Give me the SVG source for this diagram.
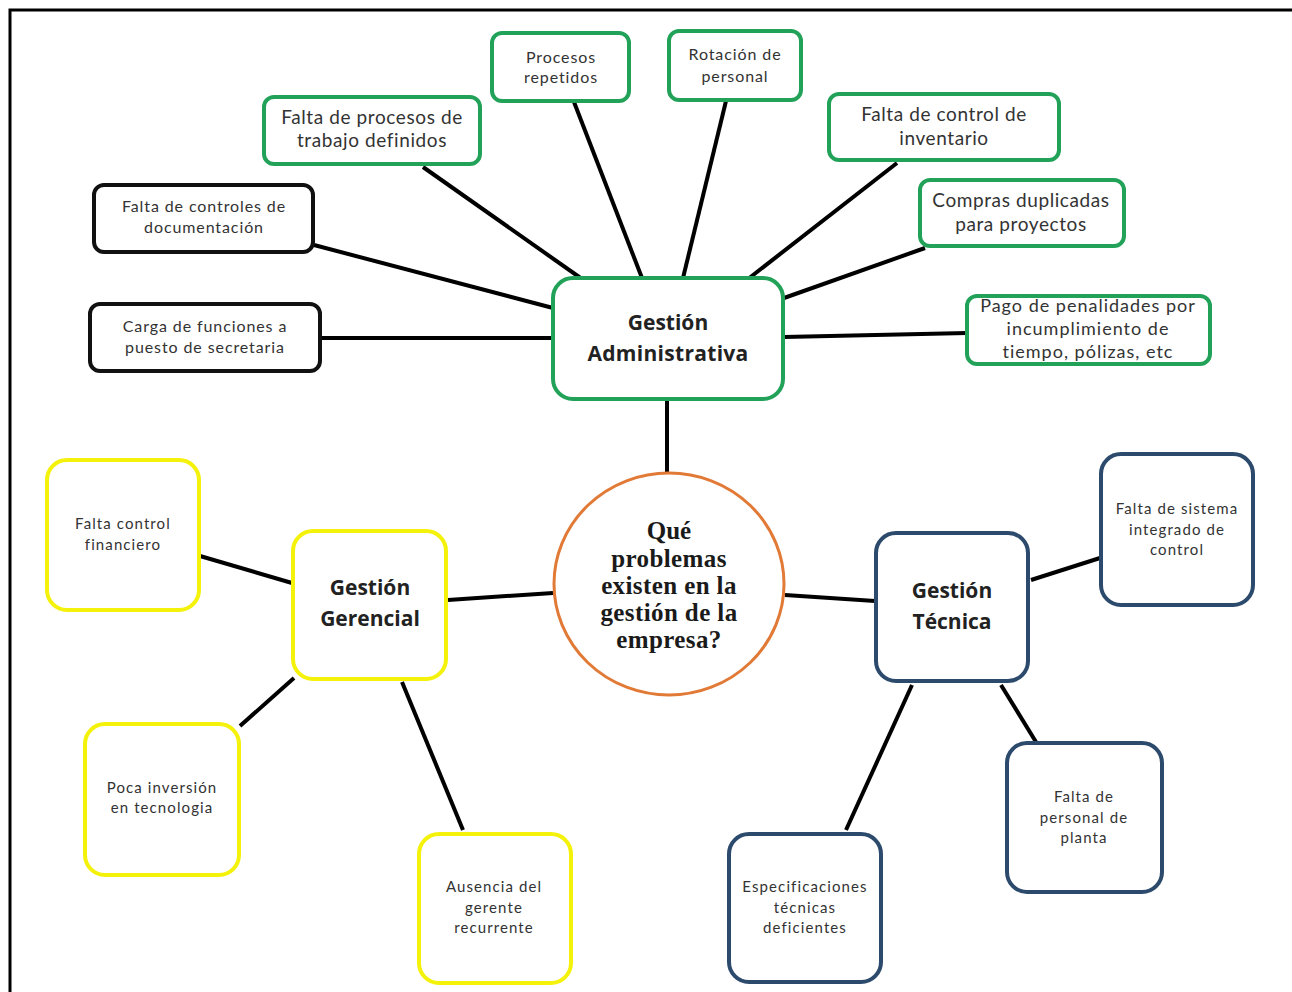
<svg xmlns="http://www.w3.org/2000/svg" width="1292" height="992" viewBox="0 0 1292 992">
  <style>
    .box { fill: #ffffff; stroke-width: 4; }
    .green { stroke: #22a259; }
    .black { stroke: #111111; }
    .yellow { stroke: #f4f20a; }
    .blue { stroke: #2c4a6c; }
    .txt { font-family: Lato, "Open Sans", "Liberation Sans", sans-serif; fill: #333333; text-anchor: middle; }
    .sm { font-size: 15px; letter-spacing: 1.1px; }
    .md { font-size: 16px; letter-spacing: 0.9px; }
    .lg { font-size: 19px; letter-spacing: 0.6px; }
    .head { font-family: "Open Sans", Lato, "Liberation Sans", sans-serif; font-weight: bold; fill: #222222; text-anchor: middle; font-size: 21px; }
    .conn line { stroke: #000000; stroke-width: 4; stroke-linecap: butt; }
    .q { font-family: "Liberation Serif", serif; font-weight: bold; font-size: 25px; fill: #1a1a1a; text-anchor: middle; }
  </style>

  <rect width="1292" height="992" fill="#ffffff"/>
  <!-- page frame: top and left rules -->
  <path d="M10 992 V10 H1292" fill="none" stroke="#000" stroke-width="3"/>

  <!-- connectors -->
  <g id="connectors" class="conn">
    <line x1="314" y1="245" x2="553" y2="308"/>
    <line x1="423" y1="167" x2="582" y2="279"/>
    <line x1="574" y1="102" x2="642" y2="278"/>
    <line x1="726" y1="101" x2="683" y2="278"/>
    <line x1="897" y1="163" x2="748" y2="279"/>
    <line x1="925" y1="248" x2="784" y2="298"/>
    <line x1="967" y1="333" x2="784" y2="337"/>
    <line x1="321" y1="338" x2="553" y2="338"/>
    <line x1="667" y1="400" x2="667" y2="472"/>
    <line x1="200" y1="556" x2="292" y2="583"/>
    <line x1="240" y1="726" x2="294" y2="678"/>
    <line x1="463" y1="830" x2="402" y2="682"/>
    <line x1="448" y1="600" x2="553" y2="593"/>
    <line x1="785" y1="595" x2="875" y2="601"/>
    <line x1="1031" y1="580" x2="1100" y2="558"/>
    <line x1="912" y1="685" x2="846" y2="830"/>
    <line x1="1001" y1="685" x2="1036" y2="742"/>
  </g>

  <!-- central question -->
  <g id="center">
    <ellipse cx="669" cy="584" rx="115" ry="111" fill="#fff" stroke="#e27a37" stroke-width="3"/>
    <text class="q" x="669" y="539">Qué</text>
    <text class="q" x="669" y="567" letter-spacing="0.4">problemas</text>
    <text class="q" x="669" y="594" letter-spacing="0.4">existen  en la</text>
    <text class="q" x="669" y="621" letter-spacing="0.4">gestión de la</text>
    <text class="q" x="669" y="648" letter-spacing="0.4">empresa?</text>
  </g>

  <!-- administrative branch -->
  <g id="gestion-administrativa">
    <rect class="box green" x="553" y="278" width="230" height="121" rx="20"/>
    <text class="head" x="668" y="330">Gestión</text>
    <text class="head" x="668" y="361" letter-spacing="0.3">Administrativa</text>
  </g>
  <g id="procesos-repetidos">
    <rect class="box green" x="492" y="33" width="137" height="68" rx="10"/>
    <text class="txt md" x="561" y="63">Procesos</text>
    <text class="txt md" x="561" y="83">repetidos</text>
  </g>
  <g id="rotacion-personal">
    <rect class="box green" x="669" y="31" width="132" height="69" rx="10"/>
    <text class="txt md" x="735" y="60">Rotación de</text>
    <text class="txt md" x="735" y="82">personal</text>
  </g>
  <g id="falta-procesos">
    <rect class="box green" x="264" y="97" width="216" height="67" rx="10"/>
    <text class="txt lg" x="372" y="124">Falta de procesos de</text>
    <text class="txt lg" x="372" y="147">trabajo definidos</text>
  </g>
  <g id="falta-inventario">
    <rect class="box green" x="829" y="94" width="230" height="66" rx="10"/>
    <text class="txt lg" x="944" y="121">Falta de control de</text>
    <text class="txt lg" x="944" y="145">inventario</text>
  </g>
  <g id="compras-duplicadas">
    <rect class="box green" x="920" y="180" width="204" height="66" rx="10"/>
    <text class="txt lg" x="1021" y="207">Compras duplicadas</text>
    <text class="txt lg" x="1021" y="231">para proyectos</text>
  </g>
  <g id="pago-penalidades">
    <rect class="box green" x="967" y="296" width="243" height="68" rx="10"/>
    <text class="txt" x="1088" y="312" font-size="18" letter-spacing="1">Pago de penalidades por</text>
    <text class="txt" x="1088" y="335" font-size="18" letter-spacing="1">incumplimiento de</text>
    <text class="txt" x="1088" y="358" font-size="18" letter-spacing="1">tiempo, pólizas, etc</text>
  </g>
  <g id="falta-documentacion">
    <rect class="box black" x="94" y="185" width="219" height="67" rx="10"/>
    <text class="txt md" x="204" y="212">Falta de controles de</text>
    <text class="txt md" x="204" y="233">documentación</text>
  </g>
  <g id="carga-secretaria">
    <rect class="box black" x="90" y="304" width="230" height="67" rx="10"/>
    <text class="txt md" x="205" y="332">Carga de funciones a</text>
    <text class="txt md" x="205" y="353">puesto de secretaria</text>
  </g>

  <!-- management branch -->
  <g id="gestion-gerencial">
    <rect class="box yellow" x="293" y="531" width="153" height="148" rx="20"/>
    <text class="head" x="370" y="595">Gestión</text>
    <text class="head" x="370" y="626">Gerencial</text>
  </g>
  <g id="falta-control-financiero">
    <rect class="box yellow" x="47" y="460" width="152" height="150" rx="20"/>
    <text class="txt sm" x="123" y="529">Falta control</text>
    <text class="txt sm" x="123" y="550">financiero</text>
  </g>
  <g id="poca-inversion">
    <rect class="box yellow" x="85" y="724" width="154" height="151" rx="20"/>
    <text class="txt sm" x="162" y="793">Poca inversión</text>
    <text class="txt sm" x="162" y="813">en tecnologia</text>
  </g>
  <g id="ausencia-gerente">
    <rect class="box yellow" x="419" y="834" width="152" height="149" rx="20"/>
    <text class="txt sm" x="494" y="892">Ausencia del</text>
    <text class="txt sm" x="494" y="913">gerente</text>
    <text class="txt sm" x="494" y="933">recurrente</text>
  </g>

  <!-- technical branch -->
  <g id="gestion-tecnica">
    <rect class="box blue" x="876" y="533" width="152" height="148" rx="20"/>
    <text class="head" x="952" y="598">Gestión</text>
    <text class="head" x="952" y="629">Técnica</text>
  </g>
  <g id="falta-sistema">
    <rect class="box blue" x="1101" y="454" width="152" height="151" rx="20"/>
    <text class="txt sm" x="1177" y="514">Falta de sistema</text>
    <text class="txt sm" x="1177" y="535">integrado de</text>
    <text class="txt sm" x="1177" y="555">control</text>
  </g>
  <g id="falta-personal-planta">
    <rect class="box blue" x="1007" y="743" width="155" height="149" rx="20"/>
    <text class="txt sm" x="1084" y="802">Falta de</text>
    <text class="txt sm" x="1084" y="823">personal de</text>
    <text class="txt sm" x="1084" y="843">planta</text>
  </g>
  <g id="especificaciones">
    <rect class="box blue" x="729" y="834" width="152" height="148" rx="20"/>
    <text class="txt sm" x="805" y="892">Especificaciones</text>
    <text class="txt sm" x="805" y="913">técnicas</text>
    <text class="txt sm" x="805" y="933">deficientes</text>
  </g>
</svg>
